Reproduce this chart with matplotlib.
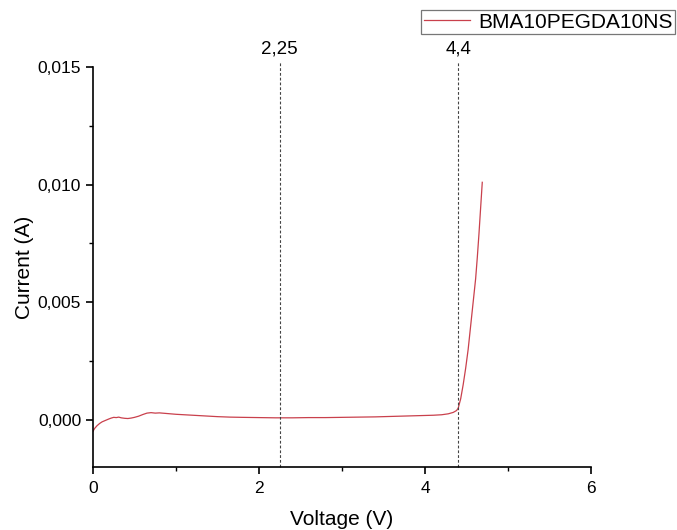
import matplotlib
matplotlib.use("Agg")
import matplotlib.pyplot as plt
from matplotlib.ticker import MultipleLocator, FuncFormatter

plt.rcParams['font.family'] = ['Liberation Sans', 'DejaVu Sans']

# Linear sweep voltammetry trace
voltage = [0.00, 0.02, 0.05, 0.08, 0.11, 0.15, 0.19, 0.22, 0.25, 0.28, 0.31, 0.34,
           0.38, 0.42, 0.46, 0.50, 0.55, 0.60, 0.65, 0.70, 0.75, 0.80, 0.90,
           1.00, 1.10, 1.20, 1.35, 1.50, 1.65, 1.80, 2.00, 2.20, 2.40, 2.60,
           2.80, 3.00, 3.20, 3.40, 3.60, 3.80, 4.00, 4.10, 4.20, 4.28, 4.34,
           4.38, 4.40, 4.43, 4.46, 4.49, 4.52, 4.55, 4.58, 4.61, 4.63, 4.65,
           4.67, 4.69]
current = [-0.00048, -0.00036, -0.00024, -0.00015, -0.00008, -0.00002, 0.00004,
           0.00008, 0.00011, 0.00010, 0.00012, 0.00009, 0.00007, 0.00006,
           0.00008, 0.00011, 0.00016, 0.00023, 0.00029, 0.00031, 0.00029,
           0.00030, 0.00027, 0.00024, 0.00022, 0.00020, 0.00017, 0.00014,
           0.00012, 0.00011, 0.00010, 0.00009, 0.00009, 0.00010, 0.00010,
           0.00011, 0.00012, 0.00013, 0.00015, 0.00017, 0.00019, 0.00020,
           0.00022, 0.00026, 0.00032, 0.00040, 0.00050, 0.00090, 0.00150,
           0.00220, 0.00300, 0.00400, 0.00500, 0.00600, 0.00690, 0.00790,
           0.00900, 0.01010]

marker_voltages = [2.25, 4.4]
marker_labels = ["2,25", "4,4"]

series_name = "BMA10PEGDA10NS"

fig = plt.figure(figsize=(6.77, 5.30), dpi=100)
ax = fig.add_axes([93 / 677, 63 / 530, 498 / 677, 400 / 530])

ax.plot(voltage, current, color="#c9404c", lw=0.9, label=series_name)

for v, lab in zip(marker_voltages, marker_labels):
    ax.plot([v, v], [-0.002, 0.0152], color="#444444", lw=0.8,
            ls=(0, (2.5, 1.8)), clip_on=False)
    ax.text(v, 0.0154, lab, ha="center", va="bottom", fontsize=13.5)

ax.set_xlim(0, 6)
ax.set_ylim(-0.002, 0.015)
ax.xaxis.set_major_locator(MultipleLocator(2))
ax.xaxis.set_minor_locator(MultipleLocator(1))
ax.yaxis.set_major_locator(MultipleLocator(0.005))
ax.yaxis.set_minor_locator(MultipleLocator(0.0025))
ax.yaxis.set_major_formatter(FuncFormatter(lambda y, p: f"{y:.3f}".replace(".", ",").replace("-0,000", "0,000")))
ax.xaxis.set_major_formatter(FuncFormatter(lambda x, p: f"{x:g}"))

for s in ["top", "right"]:
    ax.spines[s].set_visible(False)
for s in ["left", "bottom"]:
    ax.spines[s].set_linewidth(1.2)

ax.tick_params(which="major", direction="out", length=5, width=1.2, labelsize=12.5)
ax.tick_params(axis="x", which="major", pad=5)
ax.tick_params(which="minor", direction="out", length=3, width=1.0)

ax.set_xlabel("Voltage (V)", fontsize=15, labelpad=10)
ax.set_ylabel("Current (A)", fontsize=15, labelpad=3)

leg = fig.legend(loc="upper right", bbox_to_anchor=(675 / 677, 1 - 10 / 530),
                 fontsize=15, frameon=True, fancybox=False, edgecolor="#555555",
                 borderpad=0.12, handlelength=2.2, handletextpad=0.4,
                 borderaxespad=0)
leg.get_frame().set_linewidth(0.9)

fig.savefig("out.png", dpi=100)
